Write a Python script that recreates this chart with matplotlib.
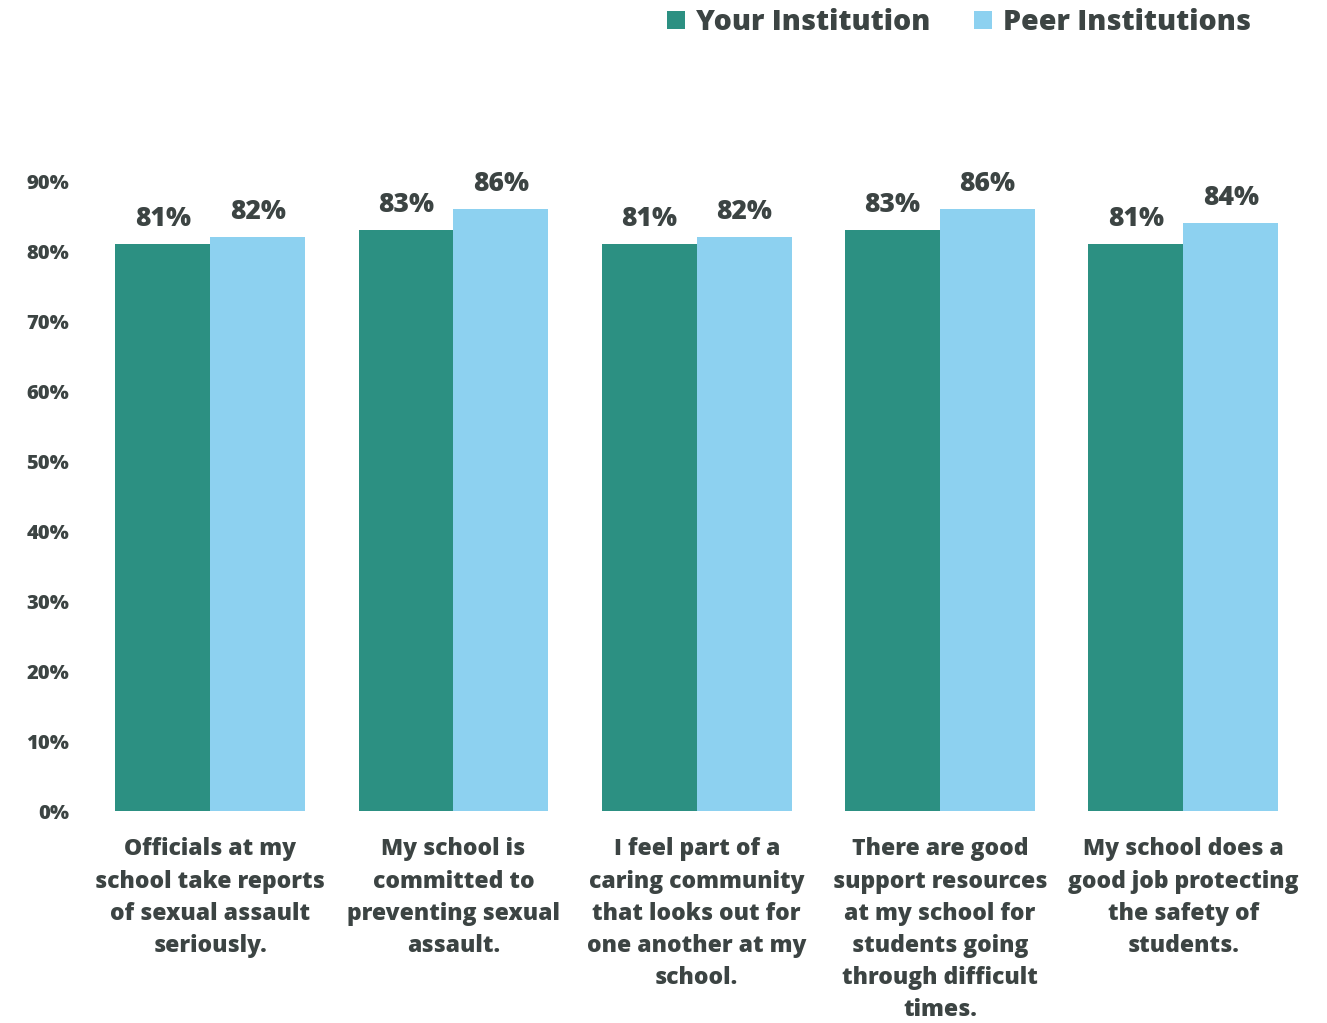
import matplotlib.pyplot as plt
import numpy as np
from matplotlib.ticker import FuncFormatter

# valeurs
categories = [
    "Officials at my\nschool take reports\nof sexual assault\nseriously.",
    "My school is\ncommitted to\npreventing sexual\nassault.",
    "I feel part of a\ncaring community\nthat looks out for\none another at my\nschool.",
    "There are good\nsupport resources\nat my school for\nstudents going\nthrough difficult\ntimes.",
    "My school does a\ngood job protecting\nthe safety of\nstudents.",
]
your_inst = [0.81, 0.83, 0.81, 0.83, 0.81]
peer_inst = [0.82, 0.86, 0.82, 0.86, 0.84]
series_names = ["Your Institution", "Peer Institutions"]

teal = "#2C9082"
light_blue = "#8DD1F0"
txt = "#3C4443"
wt = 800

plt.rcParams['font.family'] = ['Open Sans', 'DejaVu Sans']
plt.rcParams['font.weight'] = wt

fig = plt.figure(figsize=(13.27, 10.23), dpi=100)
ax = fig.add_axes([0.0667, 0.2072, 0.9167, 0.6158])

x = np.arange(len(categories))
w = 0.39
b1 = ax.bar(x - w / 2, your_inst, w, color=teal, label=series_names[0])
b2 = ax.bar(x + w / 2, peer_inst, w, color=light_blue, label=series_names[1])

for bars in (b1, b2):
    ax.bar_label(bars, labels=[f"{v*100:.0f}%" for v in bars.datavalues],
                 padding=9, fontsize=19, fontweight=wt, color=txt)

ax.set_xlim(-0.5, len(categories) - 0.5)
ax.set_ylim(0, 0.9)
ax.set_yticks(np.arange(0, 0.91, 0.1))
ax.yaxis.set_major_formatter(FuncFormatter(lambda v, p: f"{v*100:.0f}%"))
ax.set_xticks(x)
ax.set_xticklabels(categories, fontsize=16.5, fontweight=wt, color=txt,
                   linespacing=1.45, va='top')
ax.tick_params(axis='x', length=0, pad=19)
ax.tick_params(axis='y', length=0, pad=14, labelsize=14.5, labelcolor=txt)
for s in ax.spines.values():
    s.set_visible(False)

fig.legend(loc='upper right', bbox_to_anchor=(0.962, 1.017), ncol=2, frameon=False,
           prop={'size': 20.5, 'weight': wt}, labelcolor=txt,
           handlelength=0.6, handleheight=0.6, handletextpad=0.4, columnspacing=1.55)

fig.savefig("out.png", dpi=100)
